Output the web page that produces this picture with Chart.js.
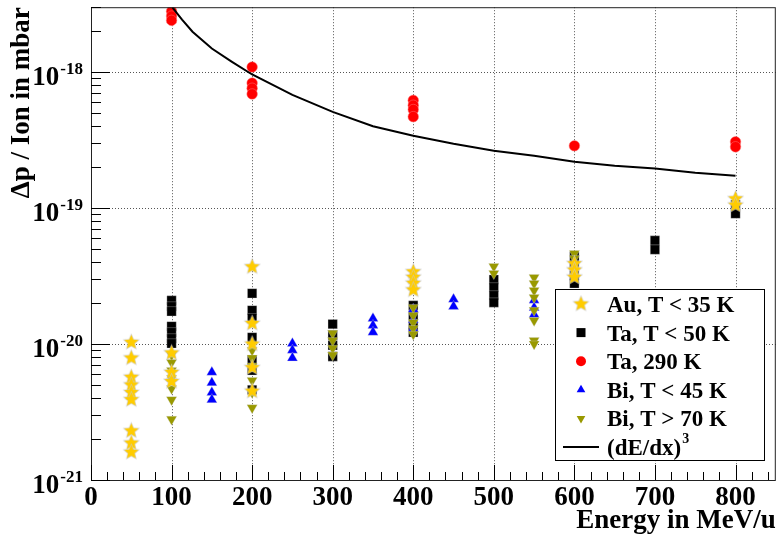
<!DOCTYPE html>
<html>
<head>
<meta charset="utf-8">
<script src="https://cdn.jsdelivr.net/npm/chart.js@4.4.0/dist/chart.umd.min.js"></script>
<style>
  body { margin: 0; background: #fff; }
  #wrap { width: 783px; height: 534px; position: relative; }
</style>
</head>
<body>
<div id="wrap"><canvas id="chart"></canvas></div>
<script>
// Values: energy in MeV/u, pressure rise per ion in mbar
const auEnergy = [50, 50, 50, 50, 50, 50, 50, 50, 50, 100, 100, 100, 200, 200, 200, 200, 200, 400, 400, 400, 400, 600, 600, 600, 800, 800];
const auValue = [1.03e-20, 7.9e-21, 5.7e-21, 5.0e-21, 4.4e-21, 3.9e-21, 2.3e-21, 1.87e-21, 1.6e-21,
  8.6e-21, 6.2e-21, 5.3e-21, 3.7e-20, 1.42e-20, 1.0e-20, 6.7e-21, 4.5e-21,
  3.4e-20, 3.1e-20, 2.8e-20, 2.5e-20, 3.9e-20, 3.5e-20, 3.1e-20, 1.17e-19, 1.05e-19];

const taColdEnergy = [100, 100, 100, 100, 100, 100, 100, 200, 200, 200, 200, 200, 200, 200, 300, 300, 300, 300,
  400, 400, 400, 400, 500, 500, 500, 500, 600, 600, 600, 600, 700, 700, 800, 800];
const taColdValue = [2.09e-20, 1.89e-20, 1.74e-20, 1.35e-20, 1.22e-20, 1.10e-20, 1.01e-20,
  2.36e-20, 1.77e-20, 1.55e-20, 1.12e-20, 7.6e-21, 6.4e-21, 4.6e-21, 1.40e-20, 1.16e-20, 9.8e-21, 8.1e-21,
  1.92e-20, 1.62e-20, 1.37e-20, 1.22e-20, 2.98e-20, 2.61e-20, 2.28e-20, 2.02e-20,
  4.4e-20, 3.78e-20, 3.19e-20, 2.79e-20, 5.77e-20, 4.95e-20, 1.06e-19, 9.1e-20];

const taWarmEnergy = [100, 100, 100, 200, 200, 200, 200, 400, 400, 400, 400, 600, 800, 800];
const taWarmValue = [2.8e-18, 2.58e-18, 2.4e-18, 1.09e-18, 8.3e-19, 7.6e-19, 6.9e-19,
  6.2e-19, 5.7e-19, 5.3e-19, 4.7e-19, 2.87e-19, 3.07e-19, 2.82e-19];

const biColdEnergy = [150, 150, 150, 150, 250, 250, 250, 350, 350, 350, 400, 400, 400, 450, 450, 550, 550, 550];
const biColdValue = [6.2e-21, 5.2e-21, 4.4e-21, 3.9e-21, 1.01e-20, 9.0e-21, 7.9e-21,
  1.54e-20, 1.37e-20, 1.22e-20, 1.8e-20, 1.5e-20, 1.3e-20, 2.13e-20, 1.89e-20, 2.1e-20, 1.85e-20, 1.65e-20];

const biWarmEnergy = [100, 100, 100, 100, 100, 100, 100, 200, 200, 200, 200, 200, 200, 300, 300, 300, 300,
  400, 400, 400, 400, 400, 500, 500, 550, 550, 550, 550, 550, 550, 550, 550, 600, 600];
const biWarmValue = [8.3e-21, 7.3e-21, 6.4e-21, 5.6e-21, 4.7e-21, 3.9e-21, 2.8e-21,
  9.0e-21, 7.9e-21, 6.9e-21, 5.4e-21, 4.4e-21, 3.4e-21, 1.2e-20, 1.06e-20, 9.3e-21, 8.3e-21,
  1.86e-20, 1.62e-20, 1.44e-20, 1.30e-20, 1.18e-20, 3.72e-20, 3.30e-20,
  3.09e-20, 2.79e-20, 2.48e-20, 2.2e-20, 1.77e-20, 1.49e-20, 1.06e-20, 1.0e-20, 4.63e-20, 4.26e-20];

// (dE/dx)^3 scaling curve
const curveEnergy = [101, 113, 126, 150, 175, 200, 250, 300, 350, 400, 450, 500, 550, 600, 650, 700, 750, 800];
const curveValue = [2.99e-18, 2.43e-18, 1.98e-18, 1.49e-18, 1.19e-18, 9.6e-19, 6.8e-19, 5.1e-19, 4.0e-19, 3.4e-19,
  2.97e-19, 2.64e-19, 2.42e-19, 2.19e-19, 2.05e-19, 1.95e-19, 1.82e-19, 1.73e-19];

// axis ranges and ticks
const xMin = 0, xMax = 850;
const yMin = 1e-21, yMax = 3e-18;
const xMajorTicks = [0, 100, 200, 300, 400, 500, 600, 700, 800];
const yDecades = [-21, -20, -19, -18];

const serif = '"Liberation Serif", "DejaVu Serif", serif';
const gold = '#ffcc00', olive = '#999900';

function pts(xs, ys) {
  return xs.map((x, i) => ({ x: x, y: ys[i] }));
}

// filled five point star, chart.js has none
function starCanvas(outer, color) {
  const s = Math.ceil(outer * 2 + 4);
  const c = document.createElement('canvas');
  c.width = s; c.height = s;
  const g = c.getContext('2d');
  g.beginPath();
  for (let i = 0; i < 10; i++) {
    const r = i % 2 ? outer * 0.45 : outer;
    const a = -Math.PI / 2 + i * Math.PI / 5;
    const px = s / 2 + r * Math.cos(a), py = s / 2 + r * Math.sin(a);
    if (i) g.lineTo(px, py); else g.moveTo(px, py);
  }
  g.closePath();
  g.strokeStyle = 'rgba(200,200,200,0.9)';
  g.lineWidth = 1.2;
  g.stroke();
  g.fillStyle = color;
  g.fill();
  return c;
}
const star = starCanvas(7.5, gold);

const halo = 'rgba(215,215,215,0.5)';

// draw a legend marker by hand
function drawMarker(ctx, ds, x, y) {
  ctx.save();
  ctx.fillStyle = ds.backgroundColor;
  ctx.strokeStyle = ds.borderColor;
  if (ds.legendKind === 'line') {
    ctx.lineWidth = 2;
    ctx.beginPath(); ctx.moveTo(x - 18, y); ctx.lineTo(x + 18, y); ctx.stroke();
  } else if (ds.legendKind === 'star') {
    ctx.drawImage(star, x - star.width / 2, y - star.height / 2);
  } else if (ds.legendKind === 'rect') {
    ctx.fillRect(x - 4.5, y - 4.5, 9, 9);
  } else if (ds.legendKind === 'circle') {
    ctx.beginPath(); ctx.arc(x, y, 5, 0, Math.PI * 2); ctx.fill();
  } else {
    const dir = ds.legendKind === 'up' ? 1 : -1;
    const r = 5;
    ctx.beginPath();
    ctx.moveTo(x, y - dir * r);
    ctx.lineTo(x + r * 0.866, y + dir * r * 0.5);
    ctx.lineTo(x - r * 0.866, y + dir * r * 0.5);
    ctx.closePath(); ctx.fill();
  }
  ctx.restore();
}

const frame = {
  id: 'frame',
  beforeDatasetsDraw(chart) {
    const ctx = chart.ctx, a = chart.chartArea;
    const xs = chart.scales.x, ys = chart.scales.y;
    ctx.save();
    ctx.strokeStyle = '#555';
    ctx.lineWidth = 1;
    ctx.setLineDash([1, 2]);
    xMajorTicks.slice(1).forEach(v => {
      const x = Math.round(xs.getPixelForValue(v)) + 0.5;
      ctx.beginPath(); ctx.moveTo(x, a.top); ctx.lineTo(x, a.bottom); ctx.stroke();
    });
    yDecades.slice(1).forEach(p => {
      const y = Math.round(ys.getPixelForValue(Math.pow(10, p))) + 0.5;
      ctx.beginPath(); ctx.moveTo(a.left, y); ctx.lineTo(a.right, y); ctx.stroke();
    });
    ctx.restore();
  },
  afterDatasetsDraw(chart) {
    const ctx = chart.ctx, a = chart.chartArea;
    const xs = chart.scales.x, ys = chart.scales.y;
    ctx.save();
    // frame
    ctx.strokeStyle = '#222';
    ctx.lineWidth = 1;
    ctx.strokeRect(a.left + 0.5, a.top + 0.5, a.right - a.left - 1, a.bottom - a.top);
    ctx.strokeStyle = '#000';
    ctx.beginPath();
    // y ticks, inside the frame
    yDecades.forEach(p => {
      for (let m = 1; m <= 9; m++) {
        const v = m * Math.pow(10, p);
        if (v > yMax * 1.0001) break;
        const y = Math.round(ys.getPixelForValue(v)) + 0.5;
        ctx.moveTo(a.left, y); ctx.lineTo(a.left + (m === 1 ? 19 : 10), y);
      }
    });
    // x ticks
    for (let v = xMin; v < xMax; v += 20) {
      const x = Math.round(xs.getPixelForValue(v)) + 0.5;
      ctx.moveTo(x, a.bottom); ctx.lineTo(x, a.bottom - (v % 100 === 0 ? 15 : 8));
    }
    ctx.stroke();

    // tick labels
    ctx.fillStyle = '#000';
    ctx.font = 'bold 27px ' + serif;
    ctx.textAlign = 'center';
    ctx.textBaseline = 'alphabetic';
    xMajorTicks.forEach(v => ctx.fillText(String(v), xs.getPixelForValue(v), a.bottom + 25));
    ctx.textAlign = 'right';
    yDecades.forEach(p => {
      const y = ys.getPixelForValue(Math.pow(10, p));
      ctx.font = 'bold 17px ' + serif;
      const sup = String(p);
      const sw = ctx.measureText(sup).width;
      ctx.fillText(sup, 83, y + 2);
      ctx.font = 'bold 27px ' + serif;
      ctx.fillText('10', 83 - sw - 1, y + 13);
    });

    // axis titles
    ctx.font = 'bold 27px ' + serif;
    ctx.textAlign = 'right';
    ctx.fillText('Energy in MeV/u', a.right, 528);
    ctx.save();
    ctx.translate(29, a.top);
    ctx.rotate(-Math.PI / 2);
    ctx.fillText('\u0394p / Ion in mbar', 0, 0);
    ctx.restore();

    // legend box
    const lx = 555, ly = 289, lw = 209, lh = 171;
    ctx.fillStyle = '#fff';
    ctx.fillRect(lx, ly, lw, lh);
    ctx.strokeStyle = '#000';
    ctx.strokeRect(lx + 0.5, ly + 0.5, lw, lh);
    ctx.textAlign = 'left';
    chart.data.datasets.forEach((ds, i) => {
      const cy = ly + 15 + i * 28.6;
      drawMarker(ctx, ds, 581, cy);
      ctx.fillStyle = '#000';
      ctx.font = 'bold 23px ' + serif;
      ctx.fillText(ds.label, 607, cy + 8);
      if (ds.legendSup) {
        const w = ctx.measureText(ds.label).width;
        ctx.font = 'bold 14px ' + serif;
        ctx.fillText(ds.legendSup, 607 + w + 1, cy - 4);
      }
    });
    ctx.restore();
  }
};

new Chart(document.getElementById('chart'), {
  type: 'scatter',
  plugins: [frame],
  data: {
    datasets: [
      {
        label: 'Au, T < 35 K', legendKind: 'star',
        data: pts(auEnergy, auValue),
        pointStyle: star, backgroundColor: gold, borderColor: gold,
        order: 0
      },
      {
        label: 'Ta, T < 50 K', legendKind: 'rect',
        data: pts(taColdEnergy, taColdValue),
        pointStyle: 'rect', pointRadius: 6.6, backgroundColor: '#000', borderColor: halo, borderWidth: 0.6,
        order: 5
      },
      {
        label: 'Ta, 290 K', legendKind: 'circle',
        data: pts(taWarmEnergy, taWarmValue),
        pointStyle: 'circle', pointRadius: 5.3, backgroundColor: '#ff0000', borderColor: 'rgba(255,120,120,0.6)', borderWidth: 0.8,
        order: 4
      },
      {
        label: 'Bi, T < 45 K', legendKind: 'up',
        data: pts(biColdEnergy, biColdValue),
        pointStyle: 'triangle', pointRadius: 6, backgroundColor: '#0000ff', borderColor: halo, borderWidth: 0.6,
        order: 3
      },
      {
        label: 'Bi, T > 70 K', legendKind: 'down',
        data: pts(biWarmEnergy, biWarmValue),
        pointStyle: 'triangle', pointRotation: 180, pointRadius: 6, backgroundColor: olive, borderColor: halo, borderWidth: 0.6,
        order: 2
      },
      {
        label: '(dE/dx)', legendSup: '3', legendKind: 'line',
        data: pts(curveEnergy, curveValue),
        showLine: true, tension: 0, pointRadius: 0, borderColor: '#000', backgroundColor: '#000', borderWidth: 2,
        order: 1
      }
    ]
  },
  options: {
    responsive: true,
    maintainAspectRatio: false,
    animation: false,
    events: [],
    layout: { padding: { left: 91, top: 7, right: 1, bottom: 54 } },
    scales: {
      x: { type: 'linear', min: xMin, max: xMax, display: false },
      y: { type: 'logarithmic', min: yMin, max: yMax, display: false }
    },
    plugins: {
      legend: { display: false },
      tooltip: { enabled: false }
    }
  }
});
</script>
</body>
</html>
